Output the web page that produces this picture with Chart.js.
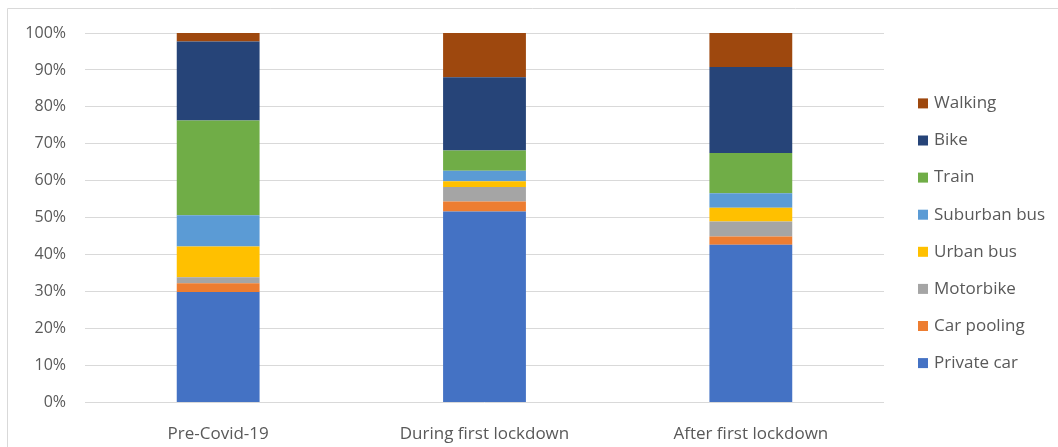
<!DOCTYPE html>
<html>
<head>
<meta charset="utf-8">
<script src="https://cdn.jsdelivr.net/npm/chart.js@4/dist/chart.umd.min.js"></script>
<style>
  html, body { margin: 0; padding: 0; background: #fff; }
  #wrap { width: 1058px; height: 447px; position: relative; }
</style>
</head>
<body>
<div id="wrap"><canvas id="chart"></canvas></div>
<script>
// periods on the x axis
const periodos = ['Pre-Covid-19', 'During first lockdown', 'After first lockdown'];

// modal share per period (%)
const privateCar  = [29.9, 51.7, 42.7];
const carPooling  = [2.4, 2.7, 2.2];
const motorbike   = [1.6, 3.9, 4.1];
const urbanBus    = [8.3, 1.6, 3.7];
const suburbanBus = [8.5, 2.8, 3.9];
const train       = [25.6, 5.5, 10.9];
const bike        = [21.4, 19.8, 23.3];
const walking     = [2.3, 12.0, 9.2];

const yTicks = [0, 10, 20, 30, 40, 50, 60, 70, 80, 90, 100];

const FUENTE = "'Open Sans', sans-serif";
const GRIS_TXT = '#595959';
const GRIS_LINEA = '#d9d9d9';

const series = [
  { label: 'Private car',  data: privateCar,  backgroundColor: '#4472C4' },
  { label: 'Car pooling',  data: carPooling,  backgroundColor: '#ED7D31' },
  { label: 'Motorbike',    data: motorbike,   backgroundColor: '#A5A5A5' },
  { label: 'Urban bus',    data: urbanBus,    backgroundColor: '#FFC000' },
  { label: 'Suburban bus', data: suburbanBus, backgroundColor: '#5B9BD5' },
  { label: 'Train',        data: train,       backgroundColor: '#70AD47' },
  { label: 'Bike',         data: bike,        backgroundColor: '#264478' },
  { label: 'Walking',      data: walking,     backgroundColor: '#9E480E' }
];

// marco gris alrededor del gráfico
const marco = {
  id: 'marco',
  beforeDraw(chart) {
    const ctx = chart.ctx;
    ctx.save();
    ctx.strokeStyle = GRIS_LINEA;
    ctx.lineWidth = 1;
    ctx.beginPath();
    ctx.moveTo(7.5, chart.height);
    ctx.lineTo(7.5, 8.5);
    ctx.lineTo(chart.width, 8.5);
    ctx.stroke();
    ctx.restore();
  }
};

// leyenda a la derecha, de arriba (Walking) a abajo (Private car)
const leyenda = {
  id: 'leyenda',
  afterDraw(chart) {
    const ctx = chart.ctx;
    const area = chart.chartArea;
    const items = chart.data.datasets.slice().reverse();
    const paso = 37.1;
    const x = area.right + 34;
    const y0 = (area.top + area.bottom) / 2 - paso * (items.length - 1) / 2 + 15.5;
    ctx.save();
    ctx.font = '17px ' + FUENTE;
    ctx.textBaseline = 'middle';
    items.forEach((ds, i) => {
      const y = y0 + i * paso;
      ctx.fillStyle = ds.backgroundColor;
      ctx.fillRect(x, y - 5, 10, 10);
      ctx.fillStyle = GRIS_TXT;
      ctx.fillText(ds.label, x + 16, y);
    });
    ctx.restore();
  }
};

new Chart(document.getElementById('chart'), {
  type: 'bar',
  data: { labels: periodos, datasets: series },
  options: {
    responsive: true,
    maintainAspectRatio: false,
    animation: false,
    layout: { padding: { top: 33, right: 174, bottom: 0, left: 0 } },
    datasets: { bar: { categoryPercentage: 1, barPercentage: 0.311, borderWidth: 0 } },
    plugins: { legend: { display: false }, tooltip: { enabled: false } },
    scales: {
      x: {
        stacked: true,
        grid: { display: false },
        border: { display: false },
        ticks: { color: GRIS_TXT, font: { family: FUENTE, size: 17 }, padding: 13 },
        afterFit: (s) => { s.height = 44.5; }
      },
      y: {
        stacked: true,
        min: 0,
        max: 100,
        afterBuildTicks: (s) => { s.ticks = yTicks.map(v => ({ value: v })); },
        grid: { color: GRIS_LINEA, lineWidth: 1, drawTicks: false },
        border: { display: false },
        ticks: {
          color: GRIS_TXT,
          font: { family: FUENTE, size: 16 },
          padding: 19,
          callback: (v) => v + '%'
        },
        afterFit: (s) => { s.width = 85; }
      }
    }
  },
  plugins: [marco, leyenda]
});
</script>
</body>
</html>
